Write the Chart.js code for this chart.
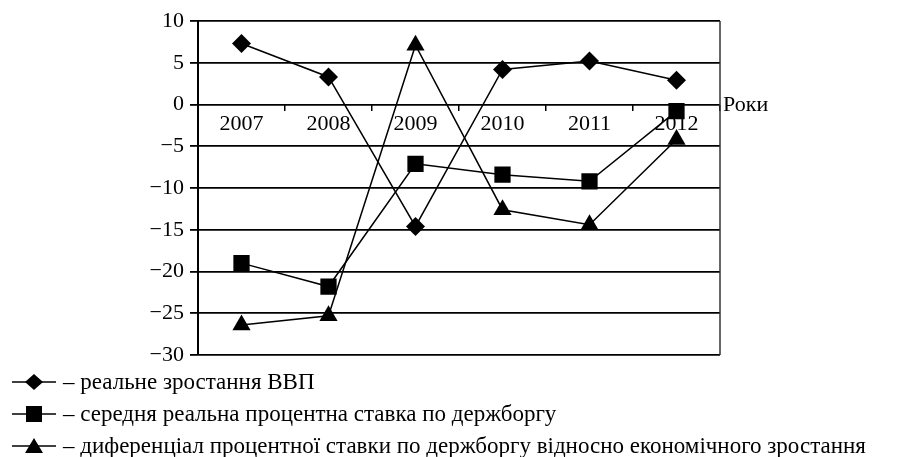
<!DOCTYPE html>
<html lang="uk">
<head>
<meta charset="utf-8">
<script src="https://cdn.jsdelivr.net/npm/chart.js@4/dist/chart.umd.min.js"></script>
<style>
  html, body { margin: 0; padding: 0; background: #fff; }
  #wrap { position: relative; width: 907px; height: 457px; }
  #legend {
    position: absolute; left: 12px; top: 366px;
    font-family: "Liberation Serif", "Times New Roman", serif;
    font-size: 23px; color: #000;
  }
  .row { display: flex; align-items: center; height: 32px; }
  .row svg { margin-right: 7px; }
</style>
</head>
<body>
<div id="wrap">
  <canvas id="chart" width="907" height="457"></canvas>
  <div id="legend"></div>
</div>
<script>
// Years and series (%)
const years = ["2007", "2008", "2009", "2010", "2011", "2012"];
const gdpGrowth = [7.3, 3.3, -14.6, 4.2, 5.2, 2.9];
const debtRate = [-19.0, -21.8, -7.1, -8.4, -9.2, -0.8];
const rateDiff = [-26.4, -25.3, 7.1, -12.6, -14.4, -4.2];

const seriesNames = [
  "реальне зростання ВВП",
  "середня реальна процентна ставка по держборгу",
  "диференціал процентної ставки по держборгу відносно економічного зростання"
];
const axisTitle = "Роки";

const FONT = "'Liberation Serif', 'Times New Roman', serif";

const styles = [
  { pointStyle: "rectRot", pointRadius: 9.5 },
  { pointStyle: "rect", pointRadius: 11.5 },
  { pointStyle: "triangle", pointRadius: 10.5 }
];

const datasets = [gdpGrowth, debtRate, rateDiff].map((values, i) => ({
  label: seriesNames[i],
  data: values,
  borderColor: "#000",
  backgroundColor: "#000",
  borderWidth: 1.5,
  pointBackgroundColor: "#000",
  pointBorderColor: "#000",
  pointBorderWidth: 0,
  tension: 0,
  ...styles[i]
}));

// right frame line and the "Роки" caption at the zero line
const extras = {
  id: "extras",
  afterDraw(chart) {
    const { ctx, chartArea, scales } = chart;
    ctx.save();
    ctx.strokeStyle = "#333";
    ctx.lineWidth = 1.5;
    ctx.beginPath();
    ctx.moveTo(chartArea.right, chartArea.top);
    ctx.lineTo(chartArea.right, chartArea.bottom);
    ctx.stroke();
    ctx.fillStyle = "#000";
    ctx.font = "22px " + FONT;
    ctx.textBaseline = "middle";
    ctx.fillText(axisTitle, chartArea.right + 3, scales.y.getPixelForValue(0) + 1);
    ctx.restore();
  }
};

new Chart(document.getElementById("chart"), {
  type: "line",
  data: { labels: years, datasets },
  options: {
    responsive: false,
    animation: false,
    devicePixelRatio: 1,
    layout: { padding: { left: 0, right: 187, top: 21, bottom: 102 } },
    plugins: { legend: { display: false }, tooltip: { enabled: false } },
    scales: {
      x: {
        axis: "x",
        position: { y: 0 },
        offset: true,
        grid: {
          offset: true,
          drawOnChartArea: false,
          drawTicks: true,
          tickLength: 6,
          color: "#000",
          lineWidth: 1.5
        },
        border: { display: false },
        ticks: { color: "#000", font: { family: FONT, size: 22 }, padding: 1 }
      },
      y: {
        min: -30,
        max: 10,
        afterFit(scale) { scale.width = 198; },
        ticks: {
          stepSize: 5,
          color: "#000",
          padding: 6,
          font: { family: FONT, size: 22 },
          callback: v => String(v).replace("-", "\u2212")
        },
        grid: { color: "#000", lineWidth: 1.8, tickLength: 8 },
        border: { color: "#000", width: 2 }
      }
    }
  },
  plugins: [extras]
});

// legend rows: line with marker, dash and series name
const markerSvg = [
  '<polygon points="22,0 31,8 22,16 13,8" fill="#000"/>',
  '<rect x="14" y="0" width="16" height="16" fill="#000"/>',
  '<polygon points="22,0 31,15 13,15" fill="#000"/>'
];
document.getElementById("legend").innerHTML = seriesNames.map((name, i) =>
  '<div class="row"><svg width="44" height="16" viewBox="0 0 44 16">' +
  '<line x1="0" y1="8" x2="44" y2="8" stroke="#000" stroke-width="1.5"/>' +
  markerSvg[i] + '</svg><span>\u2013 ' + name + '</span></div>'
).join("");
</script>
</body>
</html>
